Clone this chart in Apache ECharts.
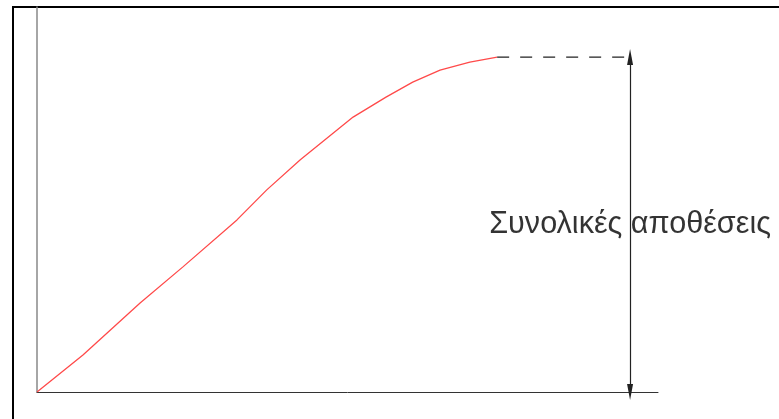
<!DOCTYPE html>
<html>
<head>
<meta charset="utf-8">
<script src="https://cdn.jsdelivr.net/npm/echarts@6/dist/echarts.min.js"></script>
<style>
  html, body { margin: 0; padding: 0; background: #fff; }
  #main { width: 779px; height: 419px; }
</style>
</head>
<body>
<div id="main"></div>
<script>
// cumulative deposit curve (x, y in 0..100 units)
var curveX = [0, 7.4, 16.6, 23.5, 32.2, 37.0, 42.4, 50.9, 56.2, 60.5, 64.9, 69.7, 74.1];
var curveY = [0, 9.6, 23.1, 32.5, 44.7, 52.5, 60.3, 71.4, 76.6, 80.5, 83.6, 85.7, 87.0];
var totalLevel = 87.0;
var arrowX = 95.5;
var labelText = 'Συνολικές αποθέσεις';

var curve = curveX.map(function (x, i) { return [x, curveY[i]]; });
var lastX = curveX[curveX.length - 1];

var myChart = echarts.init(document.getElementById('main'));
myChart.setOption({
    animation: false,
    grid: { left: 37, top: 7, width: 621, height: 385 },
    xAxis: {
        type: 'value', min: 0, max: 100,
        axisLine: { show: true, onZero: false, lineStyle: { color: '#333', width: 1 } },
        axisTick: { show: false }, axisLabel: { show: false }, splitLine: { show: false }
    },
    yAxis: {
        type: 'value', min: 0, max: 100,
        axisLine: { show: true, onZero: false, lineStyle: { color: '#888', width: 1.5 } },
        axisTick: { show: false }, axisLabel: { show: false }, splitLine: { show: false }
    },
    graphic: [{
        type: 'polyline',
        shape: { points: [[13, 419], [13, 7], [779, 7]] },
        style: { stroke: '#000', lineWidth: 2, fill: null }
    }],
    series: [
        {
            type: 'line',
            data: curve,
            showSymbol: false,
            lineStyle: { color: '#ff4a4a', width: 1.3 }
        },
        {
            type: 'line',
            data: [[lastX, totalLevel], [arrowX, totalLevel]],
            showSymbol: false,
            lineStyle: { color: '#222', width: 1.2, type: [12, 11] },
            markLine: {
                silent: true,
                symbol: ['triangle', 'triangle'],
                symbolSize: [6, 16],
                label: { show: false },
                lineStyle: { color: '#222', width: 1.2, type: 'solid' },
                data: [[{ coord: [arrowX, totalLevel] }, { coord: [arrowX, 0] }]]
            }
        },
        {
            type: 'scatter',
            data: [[arrowX, totalLevel / 2]],
            symbolSize: 0,
            label: {
                show: true,
                position: 'inside',
                formatter: labelText,
                fontFamily: "'Liberation Sans', Arial, sans-serif",
                fontSize: 30.6,
                color: '#000',
                backgroundColor: '#fff',
                padding: [5, 0]
            }
        }
    ]
});
</script>
</body>
</html>
